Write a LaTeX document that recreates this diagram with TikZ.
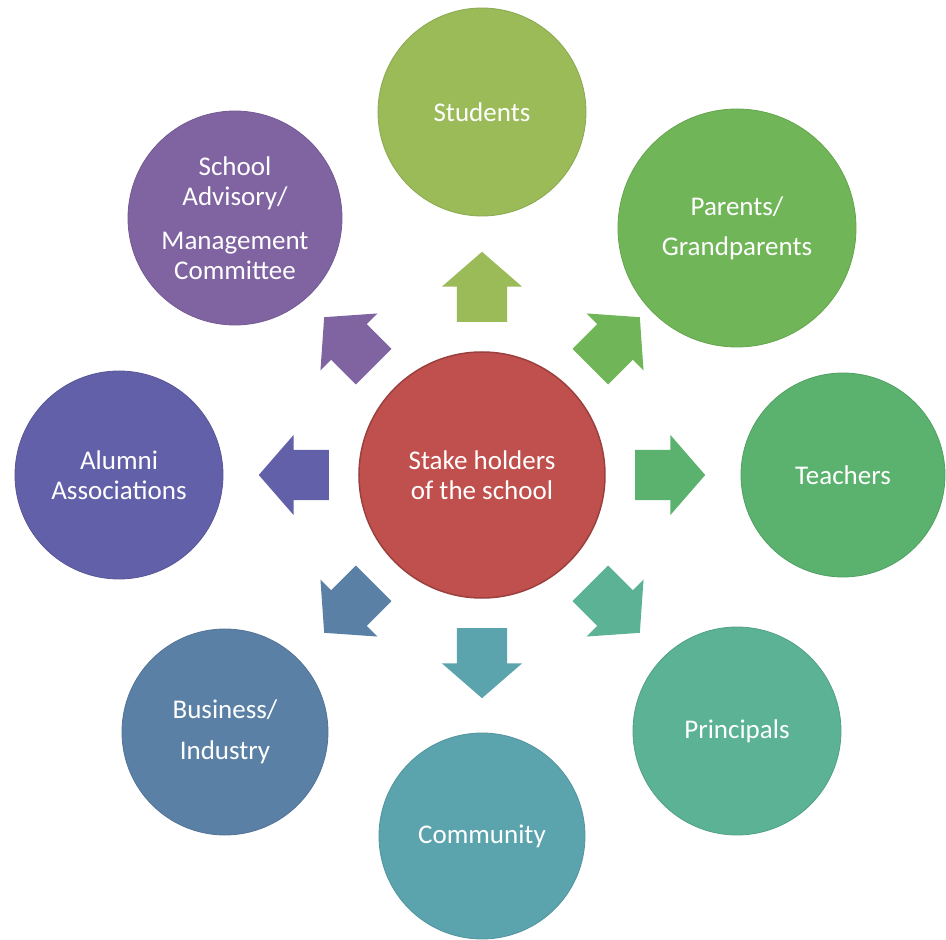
\documentclass[tikz,border=0pt]{standalone}
\usepackage{fontspec}
\setmainfont{Carlito}
\usepackage{tikz}
\usetikzlibrary{shapes.arrows,positioning}

\definecolor{hubred}{RGB}{192,80,77}
\definecolor{studgreen}{RGB}{155,187,89}
\definecolor{pargreen}{RGB}{112,182,88}
\definecolor{teachgreen}{RGB}{90,178,110}
\definecolor{princteal}{RGB}{91,178,148}
\definecolor{commteal}{RGB}{91,164,173}
\definecolor{busblue}{RGB}{91,128,166}
\definecolor{alumblue}{RGB}{98,96,168}
\definecolor{advpurple}{RGB}{128,100,162}

\begin{document}
\begin{tikzpicture}[x=1pt, y=1pt,
		blob/.style = {circle, align=center, inner sep=1pt, text=white, font=\fontsize{27}{30}\selectfont},
		hub/.style = {blob, fill=hubred, draw=hubred!80!black, line width=1.5pt, minimum size=246pt},
		leaf/.style = {blob, fill=#1, draw=#1!90!black, line width=0.8pt},
		push/.style = {single arrow, single arrow head extend=15pt, single arrow tip angle=98,
				minimum width=80pt, minimum height=70pt, inner xsep=0pt, inner ysep=25pt, anchor=tail, fill=#1}]
	\useasboundingbox (-482,-465) rectangle (464,475);

	\node [hub] (hub) at (0,0) {Stake holders\\of the school};

	\node [leaf=studgreen, minimum size=208pt] (stud) at (0,363) {Students};
	\node [leaf=pargreen, minimum size=238pt] (par) at (255,247) {Parents/\\[10pt]Grandparents};
	\node [leaf=teachgreen, minimum size=204pt] (teach) at (361,0) {Teachers};
	\node [leaf=princteal, minimum size=208pt] (prin) at (255,-256) {Principals};
	\node [leaf=commteal, minimum size=206pt] (comm) at (0,-361) {Community};
	\node [leaf=busblue, minimum size=206pt] (bus) at (-257,-257) {Business/\\[11pt]Industry};
	\node [leaf=alumblue, minimum size=208pt] (alum) at (-363,0) {Alumni\\Associations};
	\node [leaf=advpurple, minimum size=214pt] (adv) at (-247,257) {School\\Advisory/\\[14pt]Management\\Committee};

	% block arrows out of the hub
	\foreach \ang/\col in {90/studgreen, 45/pargreen, 0/teachgreen, -45/princteal,
			-90/commteal, -135/busblue, 180/alumblue, 135/advpurple}
		\node [push=\col, rotate=\ang] at (\ang:153) {};
\end{tikzpicture}
\end{document}
